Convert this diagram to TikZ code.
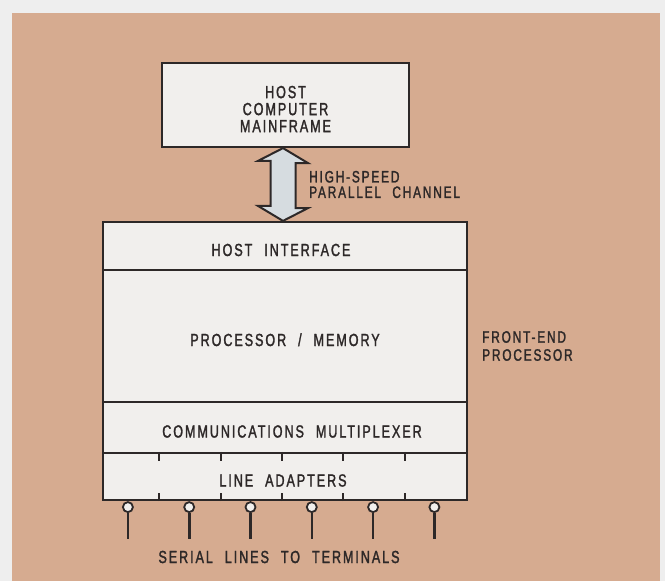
\documentclass[tikz,border=0pt]{standalone}
\usepackage{fontspec}
\setmainfont[LetterSpace=11,FakeStretch=0.72,WordSpace=2.2,FakeBold=1.6]{Liberation Sans}
\definecolor{tan}{RGB}{214,171,144}
\definecolor{margin}{RGB}{238,238,238}
\definecolor{boxfill}{RGB}{241,239,237}
\definecolor{arrowfill}{RGB}{214,220,224}
\definecolor{ink}{RGB}{45,40,40}
\begin{document}
\begin{tikzpicture}[x=1pt,y=-1pt,
  blk/.style={draw=ink,line width=2.2pt,fill=boxfill,text=ink,inner sep=0pt,
    minimum width=364pt,font=\fontsize{17.5}{17}\selectfont,text height=20pt,text depth=0pt},
  lbl/.style={text=ink,inner sep=0pt,align=left,anchor=west},
  tick/.style={draw=ink,line width=2pt},
  term/.style={circle,draw=ink,line width=1.8pt,fill=boxfill,minimum size=10pt,inner sep=0pt},
  wire/.style={draw=ink,line width=2.6pt},
  chan/.style={draw=ink,line width=2pt,fill=arrowfill,line join=miter}]
\useasboundingbox (0,0) rectangle (665,581);
\fill[margin] (0,0) rectangle (665,581);
\fill[tan] (12,13) rectangle (660,581);

\node[draw=ink,line width=2.2pt,fill=boxfill,minimum width=247pt,minimum height=84pt,
  label={[text=ink,align=center,font=\fontsize{17.5}{17}\selectfont,yshift=-4pt]center:{HOST\\COMPUTER\\MAINFRAME}}]
  (host) at (285.5,105) {};

\node[blk,minimum height=48pt] (hostif) at (285,246) {HOST INTERFACE\hspace*{8pt}};
\node[blk,minimum height=132pt] (procmem) at (285,336) {PROCESSOR / MEMORY};
\node[blk,minimum height=51pt] (commux) at (285,427.5) {\hspace*{14pt}COMMUNICATIONS MULTIPLEXER};
\node[blk,minimum height=47pt] (lineadp) at (285,476.5) {LINE ADAPTERS\hspace*{4pt}};

% high-speed channel double arrow
\draw[chan] (host.south -| 283,0) -- ++(25,15) -- ++(-12.5,0) -- ++(0,45) -- ++(12.5,0)
  -- (hostif.north -| 283,0) -- ++(-25,-15) -- ++(12.5,0) -- ++(0,-45) -- ++(-12.5,0) -- cycle;

\node[lbl,font=\fontsize{16.5}{15.5}\selectfont] (chanlbl) at (309,184.5)
  {HIGH-SPEED\\PARALLEL CHANNEL};
\node[lbl,font=\fontsize{16.5}{18}\selectfont] (fep) at (482,346)
  {FRONT-END\\PROCESSOR};

% ticks between line adapters
\foreach \i in {0,...,4}{
  \draw[tick] ([xshift=57.5pt+61.3pt*\i]lineadp.north west) -- ++(0,9);
  \draw[tick] ([xshift=57.5pt+61.3pt*\i]lineadp.south west) -- ++(0,-8);
}
% serial lines
\foreach \i in {0,...,5}{
  \node[term] (t\i) at ([xshift=26pt+61.3pt*\i,yshift=-6pt]lineadp.south west) {};
  \draw[wire] (t\i.south) -- ++(0,26);
}
\node[text=ink,inner sep=0pt,font=\fontsize{17.5}{17}\selectfont] (serial) at (279,557)
  {SERIAL LINES TO TERMINALS};
\end{tikzpicture}
\end{document}
